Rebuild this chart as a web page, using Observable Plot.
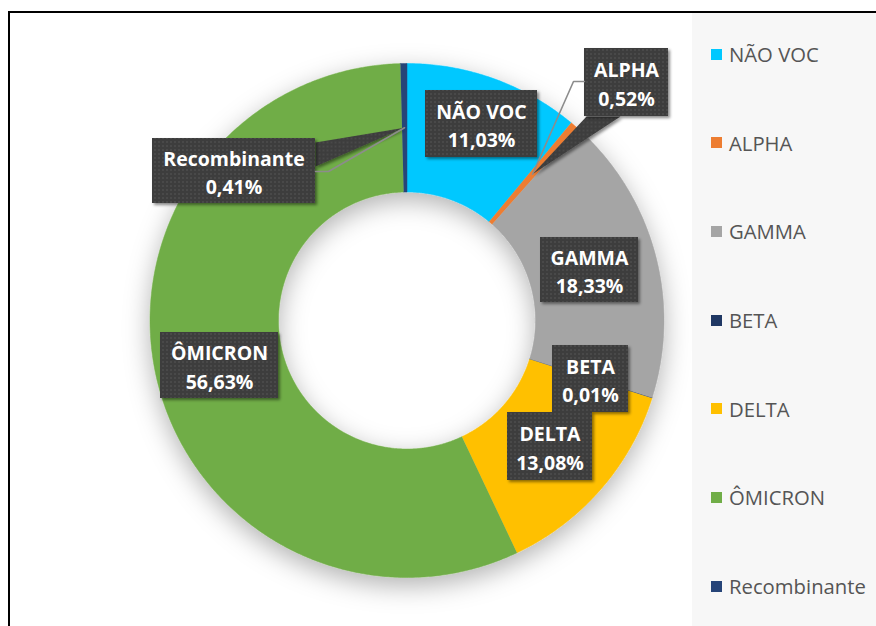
<!DOCTYPE html>
<html><head><meta charset="utf-8">
<script src="https://cdn.jsdelivr.net/npm/d3@7"></script>
<script src="https://cdn.jsdelivr.net/npm/@observablehq/plot@0.6"></script>
<style>
html,body{margin:0;padding:0;background:#fff;width:876px;height:626px;overflow:hidden;position:relative;font-family:"Open Sans",Lato,sans-serif}
#frame{position:absolute;left:8px;top:11px;width:900px;height:700px;border-left:2px solid #000;border-top:2px solid #000;box-sizing:border-box}
#legend{position:absolute;left:692px;top:13px;width:184px;height:613px;background:#f7f7f7}
#chart{position:absolute;left:10px;top:13px}
.item{position:absolute;left:0;height:26px;display:flex;align-items:center;font-size:20.3px;color:#555;white-space:nowrap}
.sw{width:11px;height:11px;margin-left:19px;margin-right:7px;flex:none}
</style></head><body>
<div id="frame"></div><div id="legend"></div><div id="chart"></div>
<script>
// ---- data ----
const categories = ["NÃO VOC", "ALPHA", "GAMMA", "BETA", "DELTA", "ÔMICRON", "Recombinante"];
const shares = [11.03, 0.52, 18.33, 0.01, 13.08, 56.63, 0.41];
const colors = ["#00C8FF", "#ED7D31", "#A5A5A5", "#203864", "#FFC000", "#70AD47", "#264478"];

// ---- layout (page pixels) ----
const W = 682, H = 613, CX = 396.5, CY = 307;
const R_OUT = 257, R_IN = 128.5;
const toX = px => px - 10 - CX;
const toY = py => CY - (py - 13);
const boxes = {
  "NÃO VOC": {cx: 481, cy: 123.5, w: 112, h: 67},
  "ALPHA": {cx: 626, cy: 82, w: 84, h: 68},
  "GAMMA": {cx: 589, cy: 269.5, w: 98, h: 65},
  "BETA": {cx: 590, cy: 378.5, w: 76, h: 67},
  "DELTA": {cx: 549.5, cy: 446, w: 85, h: 68},
  "ÔMICRON": {cx: 219, cy: 365, w: 118, h: 66},
  "Recombinante": {cx: 233.5, cy: 170.5, w: 163, h: 65}
};
const callouts = {
  "ALPHA": {base: [[586, 116], [620, 116]], leader: [[584, 81], [573, 81]]},
  "Recombinante": {base: [[315, 142], [315, 166]], leader: [[315, 171], [328, 171]]}
};

// ---- geometry from data ----
const total = d3.sum(shares);
let acc = 0;
const slices = categories.map((name, i) => {
  const a0 = acc / total * 2 * Math.PI; acc += shares[i];
  const a1 = acc / total * 2 * Math.PI;
  return {name, value: shares[i], a0, a1, am: (a0 + a1) / 2};
});
const ring = slices.flatMap(s => {
  const n = Math.max(2, Math.ceil((s.a1 - s.a0) / (Math.PI / 360)));
  const pts = [];
  for (let k = 0; k <= n; k++) { const a = s.a0 + (s.a1 - s.a0) * k / n; pts.push({name: s.name, x: R_OUT * Math.sin(a), y: R_OUT * Math.cos(a)}); }
  for (let k = n; k >= 0; k--) { const a = s.a0 + (s.a1 - s.a0) * k / n; pts.push({name: s.name, x: R_IN * Math.sin(a), y: R_IN * Math.cos(a)}); }
  return pts;
});
const fmt = v => v.toFixed(2).replace(".", ",") + "%";
const labels = slices.map(s => {
  const b = boxes[s.name];
  return {name: s.name, text: s.name + "\n" + fmt(s.value), x: toX(b.cx), y: toY(b.cy),
    x1: toX(b.cx - b.w / 2), x2: toX(b.cx + b.w / 2), y1: toY(b.cy - b.h / 2), y2: toY(b.cy + b.h / 2)};
});
const rm = (R_OUT + R_IN) / 2;
const wedgePts = [], leaderPts = [];
for (const s of slices) {
  const c = callouts[s.name]; if (!c) continue;
  const ax = rm * Math.sin(s.am), ay = rm * Math.cos(s.am);
  wedgePts.push({g: s.name, x: toX(c.base[0][0]), y: toY(c.base[0][1])},
                {g: s.name, x: ax, y: ay},
                {g: s.name, x: toX(c.base[1][0]), y: toY(c.base[1][1])});
  for (const p of c.leader) leaderPts.push({g: s.name, x: toX(p[0]), y: toY(p[1])});
  leaderPts.push({g: s.name, x: ax, y: ay});
}

const plot = Plot.plot({
  width: W, height: H,
  marginTop: 0, marginRight: 0, marginBottom: 0, marginLeft: 0,
  x: {domain: [-CX, W - CX], axis: null},
  y: {domain: [-(H - CY), CY], axis: null},
  color: {domain: categories, range: colors, legend: false},
  marks: [
    Plot.line(ring, {x: "x", y: "y", z: "name", fill: "name", stroke: "name", strokeWidth: 0.5, ariaDescription: "donut"}),
    Plot.line(wedgePts, {x: "x", y: "y", z: "g", fill: "#404040", stroke: "none", ariaDescription: "box"}),
    Plot.rect(labels, {x1: "x1", x2: "x2", y1: "y1", y2: "y2", fill: "#404040", ariaDescription: "box"}),
    Plot.line(leaderPts, {x: "x", y: "y", z: "g", stroke: "#8c8c8c", strokeWidth: 1.6}),
    Plot.text(labels, {x: "x", y: "y", text: "text", fill: "white", fontSize: 19.5, fontWeight: "bold", lineHeight: 1.45, fontFamily: "'Open Sans', Lato, sans-serif"})
  ]
});
document.getElementById("chart").appendChild(plot);

const svg = d3.select(plot);
const defs = svg.insert("defs", ":first-child");
const pat = defs.append("pattern").attr("id", "dots").attr("patternUnits", "userSpaceOnUse").attr("width", 4).attr("height", 4);
pat.append("rect").attr("width", 4).attr("height", 4).attr("fill", "#3d3d3d");
pat.append("circle").attr("cx", 1).attr("cy", 1).attr("r", 0.7).attr("fill", "#5a5a5a");
defs.append("filter").attr("id", "dshadow").attr("x", "-20%").attr("y", "-20%").attr("width", "140%").attr("height", "140%")
  .append("feDropShadow").attr("dx", 0).attr("dy", 8).attr("stdDeviation", 13).attr("flood-color", "#000").attr("flood-opacity", 0.3);
defs.append("filter").attr("id", "bshadow").attr("x", "-20%").attr("y", "-20%").attr("width", "140%").attr("height", "140%")
  .append("feDropShadow").attr("dx", 2).attr("dy", 2).attr("stdDeviation", 1.5).attr("flood-color", "#000").attr("flood-opacity", 0.45);
svg.selectAll('g[aria-description="donut"]').attr("filter", "url(#dshadow)");
svg.selectAll('g[aria-description="box"]').attr("filter", "url(#bshadow)").attr("fill", "url(#dots)");

// ---- legend ----
const leg = document.getElementById("legend");
categories.forEach((c, i) => {
  const it = document.createElement("div");
  it.className = "item";
  it.style.top = (54 + i * 88.67 - 13 - 13) + "px";
  const sw = document.createElement("span"); sw.className = "sw"; sw.style.background = colors[i];
  const t = document.createElement("span"); t.textContent = c;
  it.appendChild(sw); it.appendChild(t); leg.appendChild(it);
});
</script>
</body></html>
